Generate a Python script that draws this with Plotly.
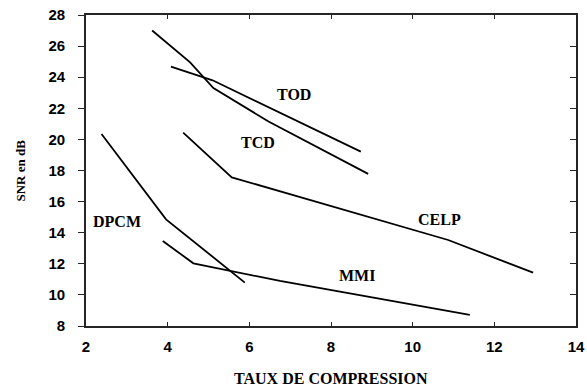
import plotly.graph_objects as go

# Compression ratio vs SNR (dB) for several speech coders
tcd_x = [3.62, 4.55, 5.12, 6.47, 8.91]
tcd_y = [27.0, 24.95, 23.3, 21.15, 17.78]

tod_x = [4.08, 5.1, 8.73]
tod_y = [24.68, 23.8, 19.21]

celp_x = [4.38, 5.57, 10.87, 12.95]
celp_y = [20.43, 17.56, 13.53, 11.43]

dpcm_x = [2.38, 3.96, 5.89]
dpcm_y = [20.35, 14.86, 10.79]

mmi_x = [3.88, 4.63, 6.75, 11.4]
mmi_y = [13.47, 12.03, 10.9, 8.71]

# Curve labels and where they sit (data coordinates)
label_text = ["TOD", "TCD", "CELP", "MMI", "DPCM"]
label_x = [7.10, 6.20, 10.65, 8.63, 2.76]
label_y = [22.90, 19.79, 14.88, 11.23, 14.71]

x_ticks = [2, 4, 6, 8, 10, 12, 14]
y_ticks = [8, 10, 12, 14, 16, 18, 20, 22, 24, 26, 28]

x_title = "TAUX DE COMPRESSION"
y_title = "SNR en dB"

AXIS_COLOR = "#262626"
SERIF = "Liberation Serif, Times New Roman, serif"
SANS = "Arial, Liberation Sans, sans-serif"

fig = go.Figure()
for xs, ys in [(tcd_x, tcd_y), (tod_x, tod_y), (celp_x, celp_y),
               (dpcm_x, dpcm_y), (mmi_x, mmi_y)]:
    fig.add_trace(go.Scatter(x=xs, y=ys, mode="lines",
                             line=dict(color="black", width=1.8),
                             showlegend=False, hoverinfo="skip"))

# empty trace so the right-hand tick axis is rendered
fig.add_trace(go.Scatter(x=[], y=[], yaxis="y2", showlegend=False))

for t, lx, ly in zip(label_text, label_x, label_y):
    fig.add_annotation(x=lx, y=ly, text=t, showarrow=False,
                       xanchor="center", yanchor="middle",
                       font=dict(family=SERIF, size=16, color="black", weight="bold"))

# axis titles
fig.add_annotation(x=0.5, y=0, xref="paper", yref="paper", text=x_title,
                   showarrow=False, xanchor="center", yanchor="middle", yshift=-52,
                   font=dict(family=SERIF, size=16, color="black", weight="bold"))
fig.add_annotation(x=0, y=0.5, xref="paper", yref="paper", text=y_title,
                   showarrow=False, xanchor="center", yanchor="middle", xshift=-66,
                   textangle=-90,
                   font=dict(family=SERIF, size=13, color="black", weight="bold"))

tick_font = dict(family=SANS, size=15, color="black", weight="bold")

fig.update_layout(
    width=587, height=386,
    margin=dict(l=86, r=11, t=15, b=60),
    paper_bgcolor="white", plot_bgcolor="white",
    xaxis=dict(
        range=[2, 14], tickvals=x_ticks,
        ticktext=[f"<b>{v}</b>" for v in x_ticks],
        ticks="inside", ticklen=4, tickwidth=1.3, tickcolor=AXIS_COLOR,
        showline=True, linewidth=1.6, linecolor=AXIS_COLOR, mirror="ticks",
        showgrid=False, zeroline=False, ticklabelstandoff=6,
        tickfont=tick_font, automargin=False,
    ),
    yaxis=dict(
        range=[8, 28], tickvals=y_ticks,
        ticktext=[f"<b>{v}</b>" for v in y_ticks],
        ticks="outside", ticklen=6, tickwidth=1.3, tickcolor=AXIS_COLOR,
        showline=True, linewidth=1.6, linecolor=AXIS_COLOR, mirror=True,
        showgrid=False, zeroline=False, ticklabelstandoff=10,
        tickfont=tick_font, automargin=False,
    ),
    yaxis2=dict(
        range=[8, 28], tickvals=y_ticks, overlaying="y", side="right",
        ticks="inside", ticklen=6, tickwidth=1.3, tickcolor=AXIS_COLOR,
        showticklabels=False, showline=False, showgrid=False, zeroline=False,
        automargin=False,
    ),
)

fig.write_html("out.html")
